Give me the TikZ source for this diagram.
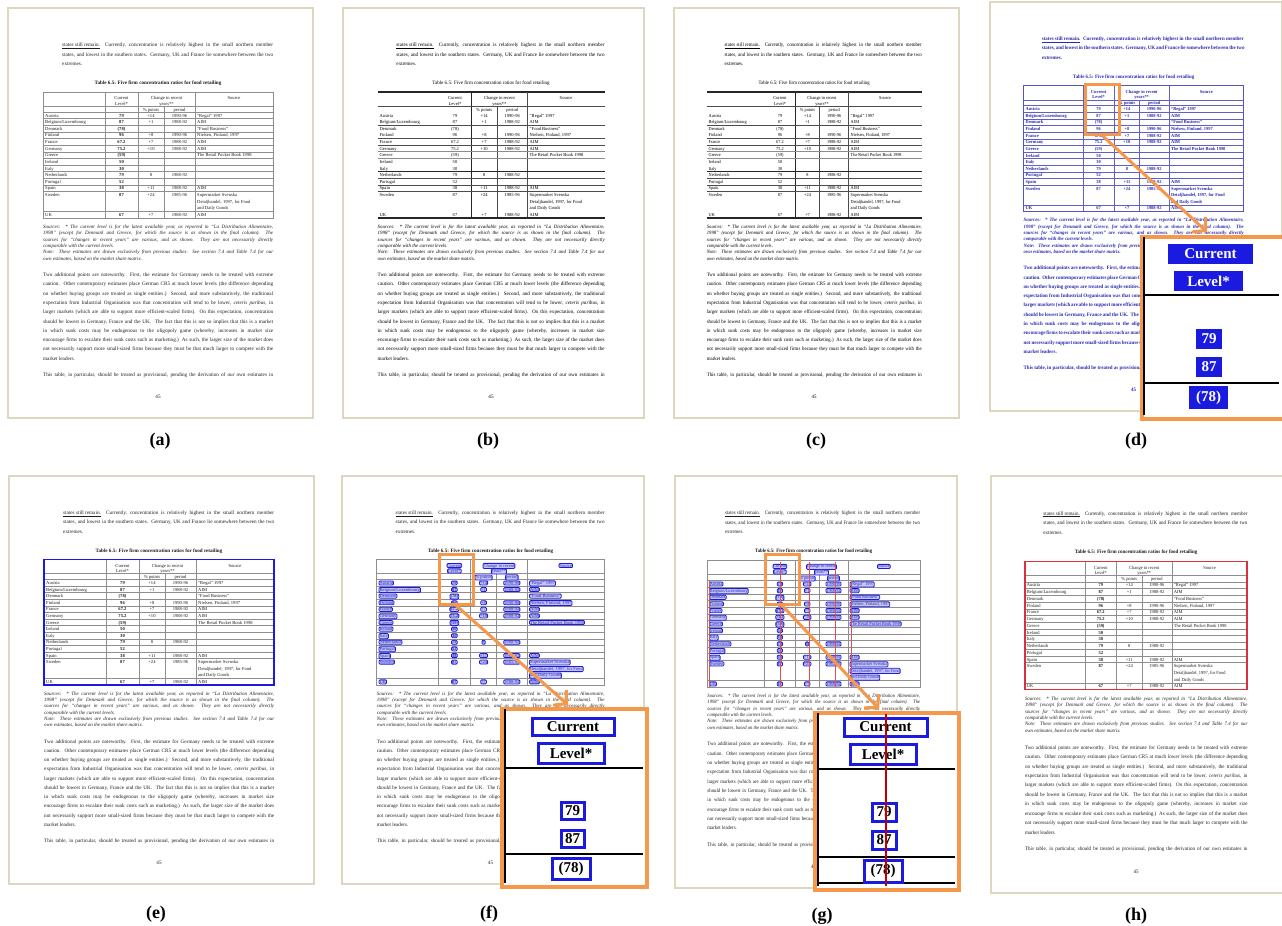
\documentclass[tikz,border=0pt]{standalone}
\usepackage{fontspec}
\setmainfont{Liberation Serif}
\usetikzlibrary{arrows.meta}
\definecolor{frameC}{HTML}{DDD7BF}
\definecolor{orng}{HTML}{F5984C}
\definecolor{hlblue}{HTML}{1A1AE0}
\definecolor{tblue}{HTML}{2A2AB0}
\definecolor{redC}{HTML}{D8303C}
\definecolor{gridC}{HTML}{8E8E8E}
\definecolor{darkred}{HTML}{C00000}

\newcount\ndc
\newif\ifruled
\newif\ifredlines
\newcommand\NN{\global\advance\ndc by 1 }
\newcommand\bodyfont{\fontsize{5.2}{6}\selectfont}
\newcommand\notefont{\fontsize{5.0}{6}\selectfont\itshape}
\newcommand\cellfont{\fontsize{4.6}{5}\selectfont}

\tikzset{
  pageframe/.style={draw=frameC, line width=2pt, fill=white, inner sep=0pt},
  bodytext/.style={inner sep=0pt, anchor=base west, text=black!88, font=\bodyfont},
  notetext/.style={inner sep=0pt, anchor=base west, text=black!88, font=\notefont},
  captext/.style={inner sep=0pt, anchor=base, text=black!90, font=\fontsize{5.1}{6}\selectfont\bfseries},
  cellsty/.style={inner sep=0pt, text=black!88, font=\cellfont},
  valsty/.style={font=\cellfont\bfseries},
  gridline/.style={draw=gridC, line width=0.5pt},
  outerline/.style={draw=gridC, line width=0.55pt},
  rulethick/.style={draw=black!85, line width=1.1pt},
  rulethin/.style={draw=black!70, line width=0.5pt},
  redln/.style={draw=redC!85, line width=0.55pt},
  lbl/.style={inner sep=0pt, anchor=base, font=\fontsize{18}{18}\selectfont\bfseries},
  selbox/.style={draw=orng, line width=2.6pt, inner sep=0pt, anchor=north west},
  zoombox/.style={draw=orng, line width=4pt, fill=white, inner sep=0pt, anchor=north west},
  zarrow/.style={draw=orng, line width=3pt, -{Straight Barb[length=9pt, width=20pt]}},
  zline/.style={draw=black, line width=1.3pt},
  zcell/.style={draw=hlblue, line width=3pt, fill=white, text=black, inner sep=0pt, font=\fontsize{15}{15}\selectfont\bfseries},
  zcellD/.style={draw=hlblue, line width=1.5pt, fill=hlblue, text=white, inner sep=0pt, font=\fontsize{15}{15}\selectfont\bfseries},
  boxcell/.style={draw=hlblue, line width=0.8pt, rounded corners=1pt, fill=hlblue!25, inner sep=0.5pt, text=tblue},
}

\newcommand\jl[4]{\NN\node[bodytext] (t\the\ndc) at (#1,#2) {\makebox[#3pt][s]{#4}};}
\newcommand\pl[3]{\NN\node[bodytext] (t\the\ndc) at (#1,#2) {#3};}
\newcommand\jn[4]{\NN\node[notetext] (t\the\ndc) at (#1,#2) {\makebox[#3pt][s]{#4}};}
\newcommand\pn[3]{\NN\node[notetext] (t\the\ndc) at (#1,#2) {#3};}
\newcommand\cellL[3]{\NN\node[cellsty, anchor=base west] (t\the\ndc) at (#1,#2) {#3};}
\newcommand\cellC[3]{\NN\node[cellsty, anchor=base] (t\the\ndc) at (#1,#2) {#3};}
\newcommand\cellV[3]{\NN\node[cellsty, valsty, anchor=base] (t\the\ndc) at (#1,#2) {#3};}
\newcommand\ifne[2]{\if\relax\detokenize{#1}\relax\else #2\fi}
\newcommand\trow[6]{%
  \cellL{38}{#1}{#2}%
  \ifne{#3}{\cellV{114.5}{#1}{#3}}%
  \ifne{#4}{\cellC{144}{#1}{#4}}%
  \ifne{#5}{\cellC{172.5}{#1}{#5}}%
  \ifne{#6}{\cellL{190}{#1}{#6}}%
}

\newcommand\pagetext{%
  \jl{55}{39.5}{211}{\underline{states still remain.}\ \ Currently, concentration is relatively highest in the small northern member}
  \jl{55}{49}{211}{states, and lowest in the southern states.\ \ Germany, UK and France lie somewhere between the two}
  \pl{55}{58.5}{extremes.}
  \NN\node[captext] (t\the\ndc) at (151,77.5) {Table 6.5: Five firm concentration ratios for food retailing};
  \jn{36}{221.5}{230}{Sources:\ \ * The current level is for the latest available year, as reported in ``La Distribution Alimentaire,}
  \jn{36}{227.8}{230}{1998'' (except for Denmark and Greece, for which the source is as shown in the final column).\ \ The}
  \jn{36}{234.1}{230}{sources for ``changes in recent years'' are various, and as shown.\ \ They are not necessarily directly}
  \pn{36}{240.4}{comparable with the current levels.}
  \jn{36}{246.7}{230}{Note:\ \ These estimates are drawn exclusively from previous studies.\ \ See section 7.4 and Table 7.4 for our}
  \pn{36}{253}{own estimates, based on the market share matrix.}
  \jl{36}{269.5}{230}{Two additional points are noteworthy.\ \ First, the estimate for Germany needs to be treated with extreme}
  \jl{36}{278.8}{230}{caution.\ \ Other contemporary estimates place German CR5 at much lower levels (the difference depending}
  \jl{36}{288.1}{230}{on whether buying groups are treated as single entities.)\ \ Second, and more substantively, the traditional}
  \jl{36}{297.4}{230}{expectation from Industrial Organisation was that concentration will tend to be lower, \emph{ceteris paribus}, in}
  \jl{36}{306.7}{230}{larger markets (which are able to support more efficient-scaled firms). On this expectation, concentration}
  \jl{36}{316}{230}{should be lowest in Germany, France and the UK.\ \ The fact that this is not so implies that this is a market}
  \jl{36}{325.3}{230}{in which sunk costs may be endogenous to the oligopoly game (whereby, increases in market size}
  \jl{36}{334.6}{230}{encourage firms to escalate their sunk costs such as marketing.) As such, the larger size of the market does}
  \jl{36}{343.9}{230}{not necessarily support more small-sized firms because they must be that much larger to compete with the}
  \pl{36}{353.2}{market leaders.}
  \jl{36}{369.5}{230}{This table, in particular, should be treated as provisional, pending the derivation of our own estimates in}
  \NN\node[bodytext, anchor=base] (t\the\ndc) at (151,391.5) {45};
}

\newcommand\drawtable{%
  \ifruled
    \draw[rulethick] (36,85) -- (266,85);
    \draw[rulethick] (131,85) -- (131,211);
    \draw[rulethin] (157,99) -- (157,211);
    \draw[rulethin] (188,85) -- (188,211);
    \foreach \yy in {99,118.25,131.5,138.125,171.25,177.875,184.5}{\draw[rulethin] (36,\yy) -- (266,\yy);}
    \foreach \yy in {144.75,151.375}{\draw[draw=black!45, line width=1pt] (36,\yy) -- (266,\yy);}
    \draw[rulethick] (36,164.625) -- (266,164.625);
    \draw[rulethick] (36,211) -- (266,211);
  \else
    \foreach \xx in {98,131,188}{\draw[gridline] (\xx,85) -- (\xx,211);}
    \draw[gridline] (157,99) -- (157,211);
    \foreach \yy in {99,105,111.625,118.25,124.875,131.5,138.125,144.75,151.375,158,164.625,171.25,177.875,184.5,204.375}{\draw[gridline] (36,\yy) -- (266,\yy);}
    \draw[outerline] (36,85) rectangle (266,211);
  \fi
  \cellC{114.5}{92.5}{Current}
  \cellC{114.5}{98}{Level*}
  \cellC{159.5}{92.5}{Change in recent}
  \cellC{159.5}{98}{years**}
  \cellC{227}{92.5}{Source}
  \cellC{144}{104}{\% points}
  \cellC{172.5}{104}{period}
  \trow{110}{Austria}{79}{+14}{1990-96}{``Regal'' 1997}
  \trow{116.6}{Belgium/Luxembourg}{87}{+1}{1988-92}{AIM}
  \trow{123.25}{Denmark}{(78)}{}{}{``Food Business''}
  \trow{129.9}{Finland}{96}{+8}{1990-96}{Nielsen, Finland, 1997}
  \trow{136.5}{France}{67.2}{+7}{1988-92}{AIM}
  \trow{143.1}{Germany}{75.2}{+10}{1988-92}{AIM}
  \trow{149.75}{Greece}{(59)}{}{}{The Retail Pocket Book 1998}
  \trow{156.4}{Ireland}{50}{}{}{}
  \trow{163}{Italy}{30}{}{}{}
  \trow{169.6}{Netherlands}{79}{8}{1988-92}{}
  \trow{176.25}{Portugal}{52}{}{}{}
  \trow{182.9}{Spain}{38}{+11}{1988-92}{AIM}
  \trow{189.5}{Sweden}{87}{+24}{1985-96}{Supermarket Svenska}
  \cellL{190}{196.1}{Detaljhandel, 1997, for Food}
  \cellL{190}{202.75}{and Daily Goods}
  \trow{209.4}{UK}{67}{+7}{1988-92}{AIM}
  \ifredlines
    \draw[redln] (38,105.5) -- (38,211);
    \draw[redln] (114.5,87) -- (114.5,211);
    \draw[redln] (146,87) -- (146,211);
    \draw[redln] (174,87) -- (174,211);
    \draw[redln] (192,105.5) -- (192,211);
  \fi
}

\newcommand\docpage[6]{%
  \begin{scope}[shift={(#2,#3)}, xscale=#4/305, yscale=#5/410, transform shape]
    #6
    \node[pageframe, minimum width=305pt, minimum height=410pt, anchor=north west] (#1) at (0,0) {};
    \pagetext
    \drawtable
  \end{scope}}

\begin{document}
\begin{tikzpicture}[x=1pt, y=-1pt]
\useasboundingbox (0,0) rectangle (1282,926);
\fill[white] (0,0) rectangle (1282,926);

% ---- row 1 ----
\docpage{pa}{7}{7}{305}{410}{}
\docpage{pb}{342}{7}{301}{410}{\ruledtrue\tikzset{bodytext/.append style={text=black}, notetext/.append style={text=black}, cellsty/.append style={text=black}, captext/.append style={text=black, font=\fontsize{5.1}{6}\selectfont}, valsty/.style={}}}
\docpage{pc}{673}{7}{285}{410}{\ruledtrue\tikzset{bodytext/.append style={text=black}, notetext/.append style={text=black}, cellsty/.append style={text=black}, captext/.append style={text=black, font=\fontsize{5.1}{6}\selectfont}, valsty/.style={}}}
\docpage{pd}{989}{1}{292}{409}{\tikzset{bodytext/.append style={text=tblue, font=\bodyfont\bfseries}, notetext/.append style={text=tblue, font=\notefont\bfseries}, captext/.append style={text=tblue}, cellsty/.append style={text=tblue, font=\cellfont\bfseries}, gridline/.style={draw=tblue!75, line width=0.5pt}, outerline/.style={draw=tblue!80, line width=0.7pt}}}

% ---- row 2 ----
\docpage{pe}{8}{475}{305}{408}{\tikzset{outerline/.style={draw=hlblue, line width=1.6pt}}}
\docpage{pf}{341}{475}{302}{408}{\tikzset{cellsty/.append style={boxcell}}}
\docpage{pg}{674}{475}{282}{412}{\redlinestrue\tikzset{cellsty/.append style={boxcell}}}
\docpage{ph}{990}{475}{295}{417}{\tikzset{outerline/.style={draw=redC, line width=1.6pt}}}

% ---- zoom (d) ----
\node[selbox, minimum width=34pt, minimum height=50pt] (dsel) at (1084,83) {};
\node[zoombox, minimum width=142pt, minimum height=182pt] (dzoom) at (1140,235) {};
\draw[zline] (1144,237) -- (1144,415);
\draw[zline] (1144,295) -- (1279,295);
\draw[zline] (1144,383) -- (1279,383);
\node[zcellD, minimum width=83pt, minimum height=18pt] (dcur) at (1210.5,254) {Current};
\node[zcellD, minimum width=67pt, minimum height=18pt] (dlev) at (1208.5,281) {Level*};
\node[zcellD, minimum width=24pt, minimum height=18pt] (d79) at (1209,339) {79};
\node[zcellD, minimum width=24pt, minimum height=18pt] (d87) at (1209,367) {87};
\node[zcellD, minimum width=37pt, minimum height=21pt] (d78) at (1208.5,397.5) {(78)};
\coordinate (dend) at (1207,232);
\draw[zarrow] (dsel.south) -- (dend);

% ---- zoom (f) ----
\node[selbox, minimum width=34pt, minimum height=50pt] (fsel) at (438,553) {};
\node[zoombox, minimum width=145pt, minimum height=178pt] (fzoom) at (500,707) {};
\draw[zline] (505,709) -- (505,883);
\draw[zline] (505,768) -- (643,768);
\draw[zline] (505,854) -- (643,854);
\node[zcell, minimum width=82pt, minimum height=17pt] (fcur) at (573,726.5) {Current};
\node[zcell, minimum width=66pt, minimum height=20pt] (flev) at (571,753) {Level*};
\node[zcell, minimum width=23pt, minimum height=17pt] (f79) at (572.5,810.5) {79};
\node[zcell, minimum width=23pt, minimum height=17pt] (f87) at (572.5,838.5) {87};
\node[zcell, minimum width=38pt, minimum height=21pt] (f78) at (571,868.5) {(78)};
\coordinate (fend) at (568,705);
\draw[zarrow] (fsel.south) -- (fend);

% ---- zoom (g) ----
\node[selbox, minimum width=34pt, minimum height=50pt] (gsel) at (764,553) {};
\node[zoombox, minimum width=144pt, minimum height=177pt] (gzoom) at (813,711) {};
\draw[zline] (818,713) -- (818,886);
\draw[zline] (818,769) -- (955,769);
\draw[zline] (818,857) -- (955,857);
\draw[zline] (818,883) -- (955,883);
\node[zcell, minimum width=83pt, minimum height=18pt] (gcur) at (885.5,727) {Current};
\node[zcell, minimum width=66pt, minimum height=20pt] (glev) at (883,754) {Level*};
\node[zcell, minimum width=24pt, minimum height=18pt] (g79) at (884,812) {79};
\node[zcell, minimum width=24pt, minimum height=18pt] (g87) at (884,840) {87};
\node[zcell, minimum width=38pt, minimum height=22pt] (g78) at (883,871) {(78)};
\coordinate (gtop) at (886,714);
\coordinate (gbot) at (886,886);
\draw[draw=darkred, line width=2.6pt] (gtop) -- (gbot);
\coordinate (gend) at (879,709);
\draw[zarrow] (gsel.south) -- (gend);

% ---- labels ----
\node[lbl] (la) at (160,445) {(a)};
\node[lbl] (lb) at (488,445) {(b)};
\node[lbl] (lc) at (816,445) {(c)};
\node[lbl] (ld) at (1136,445) {(d)};
\node[lbl] (le) at (156,918) {(e)};
\node[lbl] (lf) at (489,918) {(f)};
\node[lbl] (lg) at (822,920) {(g)};
\node[lbl] (lh) at (1136,920) {(h)};
\end{tikzpicture}
\end{document}
